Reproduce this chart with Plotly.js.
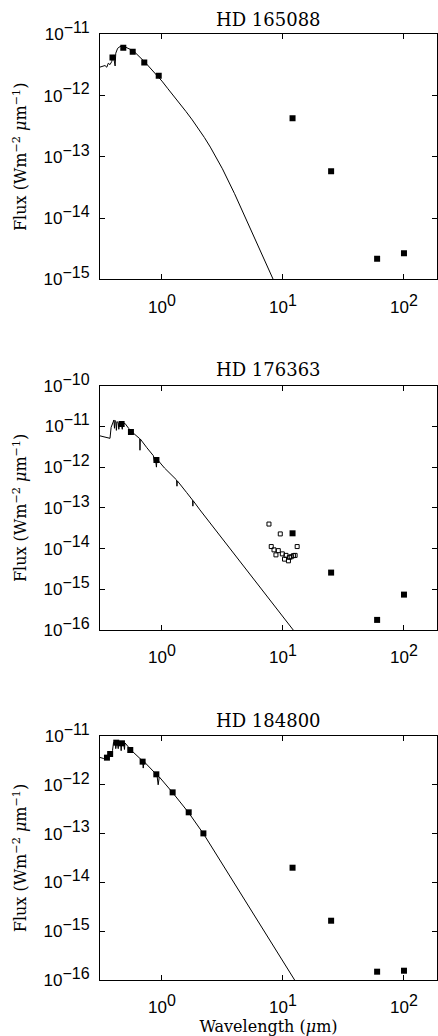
<!DOCTYPE html>
<html>
<head>
<meta charset="utf-8">
<script src="https://cdn.plot.ly/plotly-3.0.1.min.js"></script>
<style>
html,body{margin:0;padding:0;background:#fff;}
#chart{width:438px;height:1036px;}
</style>
</head>
<body>
<div id="chart"></div>
<script>
// ---------- DATA ----------
const titles = ['HD 165088', 'HD 176363', 'HD 184800'];

// HD 165088 model spectrum
const model1Wl = [0.305, 0.318, 0.338, 0.35, 0.36, 0.372, 0.384, 0.396, 0.41, 0.415, 0.422, 0.43, 0.45, 0.479, 0.524, 0.579, 0.724, 0.963, 1.0, 1.12, 1.26, 1.41, 1.58, 1.78, 2.0, 2.24, 2.51, 2.82, 3.16, 3.98, 5.01, 6.31, 8.2, 9.0];
const model1Fl = [2.9e-12, 2.96e-12, 3.09e-12, 2.9e-12, 3.37e-12, 3.2e-12, 3.57e-12, 4.6e-12, 3.04e-12, 4.9e-12, 5.5e-12, 5.9e-12, 6.3e-12, 6.45e-12, 5.9e-12, 5.4e-12, 3.5e-12, 1.9e-12, 1.72e-12, 1.29e-12, 9.7e-13, 7.33e-13, 5.48e-13, 4.0e-13, 2.88e-13, 2.07e-13, 1.44e-13, 9.7e-14, 6.37e-14, 2.5e-14, 9.3e-15, 3.4e-15, 1.06e-15, 7.0e-16];
const phot1Wl = [0.39, 0.479, 0.573, 0.714, 0.94];
const phot1Fl = [4.2e-12, 6.05e-12, 5.2e-12, 3.45e-12, 2.1e-12];
const iras1Wl = [12, 25, 60, 100];
const iras1Fl = [4.27e-13, 5.8e-14, 2.16e-15, 2.67e-15];

// HD 176363 model spectrum
const model2Wl = [0.305, 0.372, 0.380, 0.395, 0.401, 0.405, 0.41, 0.416, 0.42, 0.425, 0.435, 0.44, 0.445, 0.46, 0.47, 0.475, 0.494, 0.53, 0.562, 0.655, 0.658, 0.662, 0.75, 0.85, 0.87, 0.88, 0.90, 0.91, 0.95, 1.05, 1.32, 1.33, 1.34, 1.6, 1.79, 1.80, 1.81, 2.06, 12.5];
const model2Fl = [5.9e-12, 5.1e-12, 9.5e-12, 1.3e-11, 1.44e-11, 9e-12, 1.4e-11, 1.3e-11, 8e-12, 1.3e-11, 1.25e-11, 8.5e-12, 1.2e-11, 1.18e-11, 8.5e-12, 1.15e-11, 1.19e-11, 9e-12, 7.4e-12, 5.0e-12, 2.6e-12, 4.9e-12, 3.0e-12, 1.9e-12, 1.3e-12, 1.75e-12, 1.0e-12, 1.6e-12, 1.35e-12, 9.5e-13, 4.85e-13, 3.4e-13, 4.6e-13, 2.37e-13, 1.55e-13, 1.1e-13, 1.5e-13, 8.9e-14, 9.0e-17];
const phot2Wl = [0.464, 0.554, 0.90];
const phot2Fl = [1.15e-11, 7.3e-12, 1.5e-12];
const iras2Wl = [12, 25, 60, 100];
const iras2Fl = [2.37e-14, 2.57e-15, 1.77e-16, 7.4e-16];
const lrs2Wl = [7.66, 9.5, 13.1, 8.0, 8.43, 9.15, 8.75, 9.88, 10.6, 10.3, 11.1, 11.3, 11.7, 12.2, 12.6];
const lrs2Fl = [4.0e-14, 2.29e-14, 1.12e-14, 1.12e-14, 9.3e-15, 8.9e-15, 7.0e-15, 7.4e-15, 6.8e-15, 5.5e-15, 5.0e-15, 6.1e-15, 6.3e-15, 6.7e-15, 6.8e-15];

// HD 184800 model spectrum
const model3Wl = [0.305, 0.33, 0.351, 0.373, 0.39, 0.398, 0.41, 0.415, 0.42, 0.425, 0.435, 0.44, 0.455, 0.46, 0.465, 0.482, 0.49, 0.495, 0.554, 0.692, 0.70, 0.71, 0.91, 0.93, 0.95, 1.22, 1.66, 2.21, 13.0];
const model3Fl = [3.66e-12, 3.45e-12, 3.5e-12, 4.27e-12, 5.0e-12, 7.4e-12, 7.9e-12, 5.5e-12, 7.9e-12, 7.9e-12, 5.5e-12, 7.7e-12, 7.6e-12, 5.0e-12, 7.5e-12, 7.4e-12, 5.3e-12, 7.2e-12, 5.16e-12, 3.08e-12, 2.2e-12, 3.0e-12, 1.58e-12, 1.0e-12, 1.45e-12, 7.0e-13, 2.69e-13, 9.8e-14, 8.5e-17];
const phot3Wl = [0.351, 0.373, 0.419, 0.467, 0.547, 0.692, 0.898, 1.225, 1.663, 2.2];
const phot3Fl = [3.6e-12, 4.28e-12, 7.3e-12, 7.08e-12, 5.16e-12, 2.98e-12, 1.64e-12, 7.0e-13, 2.73e-13, 1.01e-13];
const iras3Wl = [12, 25, 60, 100];
const iras3Fl = [2.0e-14, 1.64e-15, 1.48e-16, 1.55e-16];

// tick labels
const xTickVals = [1, 10, 100];
const xTickExp = ['0', '1', '2'];
const yExp1 = [-15, -14, -13, -12, -11];
const yExp2 = [-16, -15, -14, -13, -12, -11, -10];
const yExp3 = [-16, -15, -14, -13, -12, -11];

const xTitle = 'Wavelength (<i>μ</i>m)';
const yTitle = 'Flux (Wm<sup>−2</sup> <i>μ</i>m<sup>−1</sup>)';

// ---------- BUILD ----------
const SUP = '<span style="font-size:16px">';
function powLabel(expStr) { return '10<sup>' + SUP + expStr + '</span></sup>'; }
function yTicks(exps) {
  return {
    vals: exps.map(e => Math.pow(10, e)),
    text: exps.map(e => powLabel('−' + Math.abs(e)))
  };
}

const traces = [];
function addPanel(i, mWl, mFl, pWl, pFl, iWl, iFl, oWl, oFl) {
  const xa = i === 1 ? 'x' : 'x' + i;
  const ya = i === 1 ? 'y' : 'y' + i;
  traces.push({x: mWl, y: mFl, xaxis: xa, yaxis: ya, mode: 'lines', type: 'scatter',
    line: {color: '#000', width: 1}, hoverinfo: 'skip'});
  traces.push({x: pWl.concat(iWl), y: pFl.concat(iFl), xaxis: xa, yaxis: ya, mode: 'markers', type: 'scatter',
    marker: {symbol: 'square', size: 6, color: '#000'}});
  if (oWl) {
    traces.push({x: oWl, y: oFl, xaxis: xa, yaxis: ya, mode: 'markers', type: 'scatter',
      marker: {symbol: 'square-open', size: 4, color: '#000', line: {width: 1, color: '#000'}}});
  }
}
addPanel(1, model1Wl, model1Fl, phot1Wl, phot1Fl, iras1Wl, iras1Fl);
addPanel(2, model2Wl, model2Fl, phot2Wl, phot2Fl, iras2Wl, iras2Fl, lrs2Wl, lrs2Fl);
addPanel(3, model3Wl, model3Fl, phot3Wl, phot3Fl, iras3Wl, iras3Fl);

const H = 1036;
const panels = [
  {top: 34.3, bot: 279.3, yr: [-15, -11], exps: yExp1, titleY: 19},
  {top: 385.7, bot: 630, yr: [-16, -10], exps: yExp2, titleY: 369},
  {top: 736, bot: 980, yr: [-16, -11], exps: yExp3, titleY: 720}
];

const tickFont = {family: 'Liberation Sans, Arial, sans-serif', size: 17, color: '#000'};
const textFont = {family: 'DejaVu Serif, serif', size: 16, color: '#000'};

const layout = {
  width: 438, height: H,
  margin: {l: 100, r: 1, t: 0, b: 0},
  paper_bgcolor: '#fff', plot_bgcolor: '#fff',
  showlegend: false,
  annotations: []
};

panels.forEach((p, k) => {
  const i = k + 1;
  const xk = i === 1 ? 'xaxis' : 'xaxis' + i;
  const yk = i === 1 ? 'yaxis' : 'yaxis' + i;
  const yt = yTicks(p.exps);
  layout[xk] = {
    type: 'log', range: [Math.log10(0.3075), Math.log10(187.5)],
    domain: [0, 1], anchor: i === 1 ? 'y' : 'y' + i,
    tickmode: 'array', tickvals: xTickVals, ticktext: xTickExp.map(powLabel),
    ticks: 'inside', ticklen: 5, tickwidth: 1, tickcolor: '#000',
    showline: true, linecolor: '#000', linewidth: 1, mirror: 'ticks',
    showgrid: false, zeroline: false, tickfont: tickFont, ticklabelstandoff: 12,
    title: i === 3 ? {text: xTitle, font: textFont, standoff: 6} : {text: ''}
  };
  layout[yk] = {
    type: 'log', range: p.yr,
    domain: [1 - p.bot / H, 1 - p.top / H], anchor: i === 1 ? 'x' : 'x' + i,
    tickmode: 'array', tickvals: yt.vals, ticktext: yt.text,
    ticks: 'inside', ticklen: 5, tickwidth: 1, tickcolor: '#000',
    showline: true, linecolor: '#000', linewidth: 1, mirror: 'ticks',
    showgrid: false, zeroline: false, tickfont: tickFont, ticklabelstandoff: 6,
    title: {text: yTitle, font: textFont, standoff: 12}
  };
  layout.annotations.push({
    text: titles[k], xref: 'paper', yref: 'paper',
    x: 0.5, y: 1 - p.titleY / H, xanchor: 'center', yanchor: 'middle',
    showarrow: false, font: {family: 'DejaVu Serif, serif', size: 18, color: '#000'}
  });
});

Plotly.newPlot('chart', traces, layout, {displayModeBar: false, staticPlot: true});
</script>
</body>
</html>
